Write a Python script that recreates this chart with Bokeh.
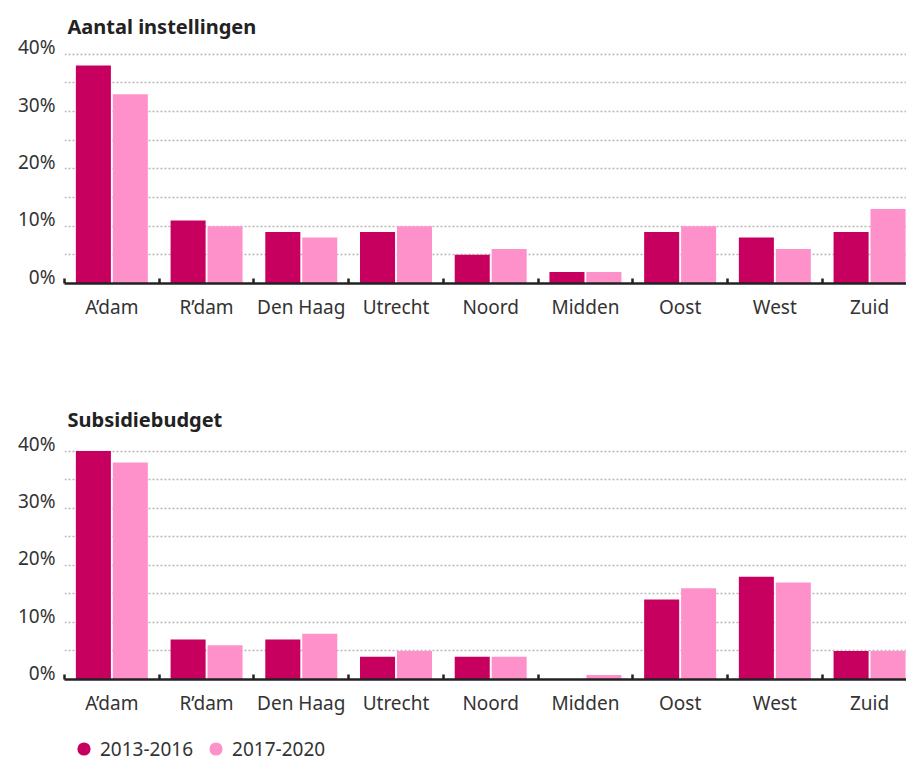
from bokeh.plotting import figure
from bokeh.layouts import column
from bokeh.models import (Range1d, FixedTicker, CustomJSTickFormatter,
                          Legend, LegendItem, ColumnDataSource)
from bokeh.transform import dodge
from bokeh.embed import file_html
from bokeh.resources import INLINE

categories = ["A’dam", "R’dam", "Den Haag", "Utrecht", "Noord", "Midden", "Oost", "West", "Zuid"]
series_names = ["2013-2016", "2017-2020"]
inst_2013 = [38, 11, 9, 9, 5, 2, 9, 8, 9]
inst_2017 = [33, 10, 8, 10, 6, 2, 10, 6, 13]
subs_2013 = [40, 7, 7, 4, 4, 0, 14, 18, 5]
subs_2017 = [38, 6, 8, 5, 4, 0.8, 16, 17, 5]
y_label_ticks = [0, 10, 20, 30, 40]
y_grid_ticks = [5, 10, 15, 20, 25, 30, 35, 40]

C1 = "#C70060"
C2 = "#FF91CA"
FONT = "Noto Sans"
TXT = "#333333"
LABEL_LIFT = 1.2  # y tick labels sit slightly above their gridline


def make_chart(title, a, b, frame_h, top_border, bottom_border, title_standoff):
    n = len(categories)
    p = figure(frame_width=842, frame_height=frame_h,
               x_range=Range1d(0, 8.89), y_range=Range1d(0, 41.5),
               output_backend="svg", toolbar_location=None,
               min_border_left=64, min_border_right=0,
               min_border_top=top_border, min_border_bottom=bottom_border)
    p.outline_line_color = None
    p.title.text = title
    p.title.text_font = FONT
    p.title.text_font_size = "20px"
    p.title.text_font_style = "bold"
    p.title.text_color = "#222222"
    p.title.offset = 3
    p.title.standoff = title_standoff

    src = ColumnDataSource(dict(x=[i + 0.5 for i in range(n)], a=a, b=b))
    p.vbar(x=dodge("x", -0.195, range=p.x_range), top="a", width=0.37, source=src,
           fill_color=C1, line_color=None)
    p.vbar(x=dodge("x", 0.195, range=p.x_range), top="b", width=0.37, source=src,
           fill_color=C2, line_color=None)

    p.xgrid.visible = False
    p.ygrid.ticker = FixedTicker(ticks=y_grid_ticks)
    p.ygrid.grid_line_color = "#b8b8b8"
    p.ygrid.grid_line_dash = "2 2"
    p.ygrid.grid_line_width = 1.5

    ya = p.yaxis[0]
    ya.ticker = FixedTicker(ticks=[v + LABEL_LIFT for v in y_label_ticks])
    ya.formatter = CustomJSTickFormatter(args=dict(lift=LABEL_LIFT),
                                         code="return Math.round(tick - lift) + '%';")
    ya.axis_line_color = None
    ya.major_tick_line_color = None
    ya.major_tick_out = 0
    ya.major_tick_in = 0
    ya.minor_tick_line_color = None
    ya.major_label_text_font = FONT
    ya.major_label_text_font_size = "19px"
    ya.major_label_text_color = TXT
    ya.major_label_standoff = 9

    xa = p.xaxis[0]
    xa.ticker = FixedTicker(ticks=[i + 0.5 for i in range(n)],
                            minor_ticks=list(range(n + 1)))
    xa.formatter = CustomJSTickFormatter(args=dict(labels=categories),
                                         code="return labels[Math.floor(tick)];")
    xa.axis_line_color = "#222222"
    xa.axis_line_width = 2.5
    xa.major_tick_line_color = None
    xa.minor_tick_line_color = "#222222"
    xa.minor_tick_line_width = 2.5
    xa.minor_tick_in = 5
    xa.minor_tick_out = 0
    xa.major_label_text_font = FONT
    xa.major_label_text_font_size = "19px"
    xa.major_label_text_color = TXT
    xa.major_label_standoff = 4
    return p


p1 = make_chart("Aantal instellingen", inst_2013, inst_2017, 238, 45, 109, 12)
p2 = make_chart("Subsidiebudget", subs_2013, subs_2017, 237, 50, 40, 19)

# legend row
pl = figure(width=906, height=41, x_range=Range1d(0, 1), y_range=Range1d(0, 1),
            x_axis_type=None, y_axis_type=None,
            output_backend="svg", toolbar_location=None,
            min_border_left=0, min_border_right=0, min_border_top=0, min_border_bottom=0)
pl.grid.visible = False
pl.outline_line_color = None
nan = float("nan")
d1 = pl.scatter(x=[nan], y=[nan], marker="circle", fill_color=C1, line_color=None)
d2 = pl.scatter(x=[nan], y=[nan], marker="circle", fill_color=C2, line_color=None)
lg = Legend(items=[LegendItem(label=series_names[0], renderers=[d1]),
                   LegendItem(label=series_names[1], renderers=[d2])],
            orientation="horizontal", location=(3, -5))
lg.label_text_font = FONT
lg.label_text_font_size = "19px"
lg.label_text_color = TXT
lg.glyph_width = 33
lg.glyph_height = 33
lg.label_standoff = -9
lg.spacing = 6
lg.padding = 0
lg.margin = 0
lg.border_line_color = None
lg.background_fill_alpha = 0
pl.add_layout(lg, "center")

p = column(p1, p2, pl)
open("out.html", "w").write(file_html(p, INLINE))
